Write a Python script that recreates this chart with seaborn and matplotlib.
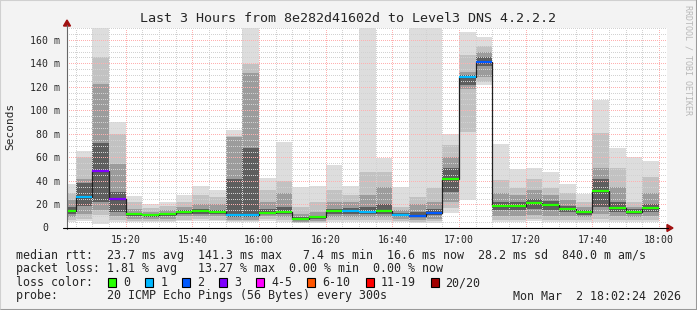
import matplotlib
matplotlib.use("Agg")
import matplotlib.pyplot as plt
import seaborn as sns
import numpy as np
from matplotlib.patches import Rectangle, Polygon
from matplotlib.lines import Line2D
from matplotlib.ticker import MultipleLocator, FixedLocator

# ---------------- data ----------------
# start minute (after 15:00) of each 5-minute measurement bin
bin_start = [0, 5, 10, 15, 20, 25, 30, 35, 40, 45, 50, 55,
             60, 65, 70, 75, 80, 85, 90, 95, 100, 105, 110, 115,
             120, 125, 130, 135, 140, 145, 150, 155, 160, 165, 170, 175]
# median rtt (ms)
median = [14.7, 26.4, 48.5, 25.0, 12.2, 11.0, 12.2, 13.9, 14.7, 13.9, 11.0, 11.0,
          13.0, 14.0, 7.4, 9.1, 14.2, 14.7, 13.9, 14.7, 11.3, 10.5, 13.0, 41.7,
          128.0, 141.3, 19.0, 18.7, 21.3, 19.9, 16.5, 13.6, 31.8, 17.3, 13.9, 16.6]
# lost pings (of 20)
loss = [0, 1, 3, 3, 0, 0, 0, 0, 0, 0, 1, 1,
        0, 0, 0, 0, 0, 1, 1, 0, 1, 2, 2, 0,
        1, 2, 0, 0, 0, 0, 0, 0, 0, 0, 0, 0]
# smoke bands (ms), outer -> inner
smoke_max = [37, 65.5, 175, 90.5, 27, 20.5, 22.5, 28, 35.7, 32.6, 83.4, 175,
             42.5, 73, 34.6, 35.3, 53.6, 35.3, 175, 59.3, 34.6, 175, 175, 79.7,
             166.5, 162.3, 71.5, 50, 50.6, 48, 37.2, 28.6, 109, 67.8, 60.2, 57]
smoke_hi2 = [30, 60, 145, 80, 22, 17, 19, 22, 28, 26, 78, 139,
             32, 40, 18, 22, 32, 28, 48, 48, 18, 26, 34, 70.6,
             147, 155, 40.8, 34, 42, 34, 30, 22, 80.6, 50.8, 22.4, 43.7]
smoke_hi3 = [24, 42, 122, 54, 16, 14, 15, 18, 20, 20, 77, 132,
             22, 30, 12, 14, 22, 22, 28, 35, 15, 20, 22, 60,
             133, 150, 30, 28, 32, 28, 24, 18, 50.8, 35, 18, 30]
smoke_hi4 = [18, 38, 72, 31, 13, 12, 13, 15, 16, 15, 42, 68,
             16, 18, 9, 10, 16, 17, 18, 20, 13, 14, 16, 51,
             130, 145, 22, 22, 25, 23, 19, 15, 42, 22, 16, 20]
smoke_lo4 = [12, 19, 22, 14, 10, 9.5, 10, 12, 12, 12, 9, 9,
             12, 12, 6.5, 7.5, 12, 12, 12, 12, 10, 9, 11, 31,
             121.7, 138, 15, 15, 16, 15, 14, 11, 18, 14, 12, 14]
smoke_lo3 = [9, 12, 15, 10, 8, 8, 8, 10, 10, 10, 7, 7,
             10, 9, 5.5, 6, 9, 9, 9, 9, 8, 7, 8, 22,
             118, 128, 10, 10, 11, 10, 10, 9, 12, 10, 9, 10]
smoke_lo2 = [7, 8, 11, 7, 6, 6, 6, 7, 8, 7, 6, 6,
             8, 7, 4.5, 5, 7, 7, 7, 7, 6, 5, 6, 17,
             82, 124.5, 7, 7, 8, 7, 7, 7, 8, 7, 7, 7]
smoke_min = [4.8, 6, 3, 5, 5, 5, 5, 6, 6, 6, 5, 5,
             6, 5, 4, 4, 5, 5, 5, 5, 5, 4, 4, 12.5,
             23.8, 121.7, 5.4, 5, 6, 5, 5, 5, 5, 5, 5, 5]

x_tick_minutes = [20, 40, 60, 80, 100, 120, 140, 160, 180]
x_tick_labels = ["15:20", "15:40", "16:00", "16:20", "16:40", "17:00", "17:20", "17:40", "18:00"]
y_tick_values = [0, 20, 40, 60, 80, 100, 120, 140, 160]
y_tick_labels = ["0", "20 m", "40 m", "60 m", "80 m", "100 m", "120 m", "140 m", "160 m"]

loss_labels = ["0", "1", "2", "3", "4-5", "6-10", "11-19", "20/20"]
loss_colors = ["#26ff00", "#00b8ff", "#0059ff", "#7e00ff", "#ff00ff", "#ff5500", "#ff0000", "#a10000"]

title = "Last 3 Hours from 8e282d41602d to Level3 DNS 4.2.2.2"
row_rtt = "median rtt:  23.7 ms avg  141.3 ms max   7.4 ms min  16.6 ms now  28.2 ms sd  840.0 m am/s"
row_loss = "packet loss: 1.81 % avg   13.27 % max  0.00 % min  0.00 % now"
row_color = "loss color:"
row_probe = "probe:       20 ICMP Echo Pings (56 Bytes) every 300s"
date_text = "Mon Mar  2 18:02:24 2026"

# ---------------- style ----------------
sns.set_style("white")
plt.rcParams["font.family"] = ["DejaVu Sans Mono"]

W, H = 697, 310
fig = plt.figure(figsize=(W / 100, H / 100), dpi=100, facecolor="#f3f3f3")


def fx(x):
    return x / W


def fy(y):
    return 1 - y / H


ax = fig.add_axes([fx(67), fy(228), 600 / W, 200 / H])
ax.set_facecolor("white")
ax.set_xlim(2.4, 182.4)
ax.set_ylim(0, 170)

starts = np.array(bin_start, dtype=float)
bands = [(smoke_min, smoke_max, "#dddddd"),
         (smoke_lo2, smoke_hi2, "#c2c2c2"),
         (smoke_lo3, smoke_hi3, "#9c9c9c"),
         (smoke_lo4, smoke_hi4, "#5e5e5e")]
for lo, hi, col in bands:
    lo = np.array(lo, float)
    hi = np.array(hi, float)
    ax.bar(starts, hi - lo, bottom=lo, width=5, align="edge", color=col,
           linewidth=0, zorder=1)

# median step line
sns.lineplot(x=list(starts) + [180.0], y=median + [median[-1]], ax=ax,
             drawstyle="steps-post", color="#202020", lw=0.9, zorder=3,
             estimator=None, sort=False)


def loss_idx(n):
    if n <= 3:
        return n
    if n <= 5:
        return 4
    if n <= 10:
        return 5
    if n <= 19:
        return 6
    return 7


ax.hlines(median, starts, starts + 5, colors=[loss_colors[loss_idx(n)] for n in loss],
          lw=1.6, zorder=4)

# grid
ax.xaxis.set_major_locator(FixedLocator(x_tick_minutes))
ax.xaxis.set_minor_locator(MultipleLocator(5))
ax.yaxis.set_major_locator(FixedLocator(y_tick_values))
ax.yaxis.set_minor_locator(MultipleLocator(5))
ax.set_xticklabels(x_tick_labels)
# the "0" label is placed separately (rrdtool leaves room for a blank unit)
ax.set_yticklabels([""] + y_tick_labels[1:])
ax.grid(which="minor", color="#d2d2d2", ls=(0, (1, 1.2)), lw=0.72, antialiased=False)
ax.grid(which="major", color="#ffb0b0", ls=(0, (1, 1.2)), lw=0.72, antialiased=False)
ax.set_axisbelow(False)
for s in ax.spines.values():
    s.set_visible(False)
ax.tick_params(which="major", direction="out", length=3, width=0.7, color="#555555",
               labelsize=7.1, pad=2)
ax.tick_params(which="minor", direction="out", length=1.5, width=0.7, color="#888888")
ax.set_xlabel("")
ax.set_ylabel("")
fig.text(fx(48.5), fy(228), y_tick_labels[0], ha="right", va="center", fontsize=7.1)

# axes lines and arrows
fig.add_artist(Line2D([fx(67), fx(67)], [fy(229), fy(25)], color="#666666", lw=0.8,
                      transform=fig.transFigure))
fig.add_artist(Line2D([fx(63), fx(668)], [fy(228), fy(228)], color="black", lw=0.8,
                      transform=fig.transFigure))
fig.add_artist(Polygon([[fx(63.5), fy(26)], [fx(70.5), fy(26)], [fx(67), fy(20)]],
                       closed=True, color="#a01010", transform=fig.transFigure))
fig.add_artist(Polygon([[fx(667), fy(224.5)], [fx(667), fy(231.5)], [fx(673), fy(228)]],
                       closed=True, color="#a01010", transform=fig.transFigure))

# texts
fig.text(fx(347.5), fy(19), title, ha="center", va="center", fontsize=9.6)
fig.text(fx(10), fy(126), "Seconds", rotation=90, ha="center", va="center", fontsize=8)
fig.text(fx(688), fy(5), "RRDTOOL / TOBI OETIKER", rotation=270, ha="center", va="top",
         fontsize=6, color="#b8b8b8")

lx = 16
fig.text(fx(lx), fy(255), row_rtt, ha="left", va="center", fontsize=8.4)
fig.text(fx(lx), fy(268.5), row_loss, ha="left", va="center", fontsize=8.4)
fig.text(fx(lx), fy(282.5), row_color, ha="left", va="center", fontsize=8.4)
fig.text(fx(lx), fy(296), row_probe, ha="left", va="center", fontsize=8.4)
fig.text(fx(681), fy(296), date_text, ha="right", va="center", fontsize=8.4)

cw = 7.02
x = 108.3
for lab, col in zip(loss_labels, loss_colors):
    fig.add_artist(Rectangle((fx(x), fy(286.7)), 8 / W, 8.4 / H, facecolor=col,
                             edgecolor="black", lw=0.8, transform=fig.transFigure))
    fig.text(fx(x + 15), fy(282.5), lab, ha="left", va="center", fontsize=8.4)
    x = x + 15 + len(lab) * cw + 15

# outer frame (3D look)
fig.add_artist(Line2D([0, 0, 1], [0, 1, 1], color="#d0d0d0", lw=1.5, transform=fig.transFigure))
fig.add_artist(Line2D([fx(1), 1 - 0.5 / W, 1 - 0.5 / W], [0.5 / H, 0.5 / H, 1],
                      color="#999999", lw=2.2, transform=fig.transFigure))

fig.savefig("out.png", dpi=100, facecolor=fig.get_facecolor())
